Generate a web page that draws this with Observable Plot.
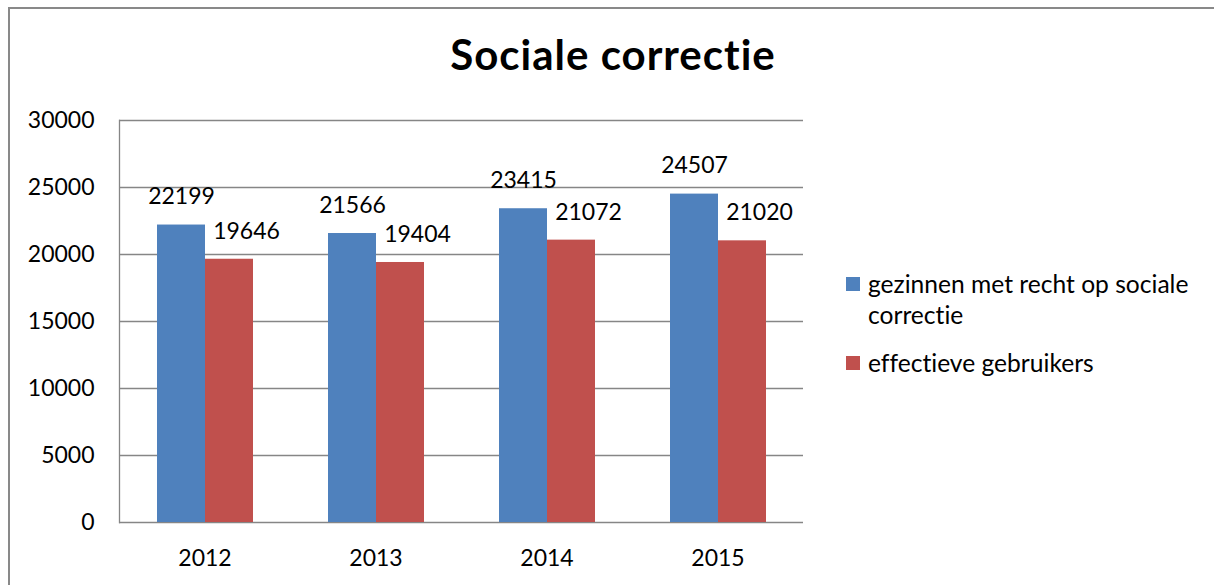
<!DOCTYPE html>
<html>
<head>
<meta charset="utf-8">
<script src="https://cdn.jsdelivr.net/npm/d3@7"></script>
<script src="https://cdn.jsdelivr.net/npm/@observablehq/plot@0.6"></script>
<style>
  html, body { margin: 0; padding: 0; background: #fff; overflow: hidden; }
  #wrap { position: relative; width: 1214px; height: 585px; overflow: hidden; font-family: Lato, "Open Sans", sans-serif; color: #000; font-variant-ligatures: none; }
  #border { position: absolute; left: 8px; top: 7px; width: 1300px; height: 700px; border-left: 2px solid #898989; border-top: 2px solid #898989; border-right: none; border-bottom: none; box-sizing: border-box; }
  #title { position: absolute; left: 0; width: 1226px; top: 33px; text-align: center; font-size: 42px; line-height: 42px; font-weight: bold; letter-spacing: 1px; }
  #chart { position: absolute; left: 0; top: 0; }
  #legend { position: absolute; left: 846px; top: 268px; font-size: 24.6px; line-height: 31px; }
  .item { display: flex; align-items: flex-start; margin-bottom: 17px; }
  .sw { width: 14px; height: 14px; flex: none; margin-top: 9px; margin-right: 8px; }
  .lab { width: 345px; }
  svg text { font-variant-ligatures: none; }
</style>
</head>
<body>
<div id="wrap">
  <div id="border"></div>
  <div id="chart"></div>
  <div id="title">Sociale correctie</div>
  <div id="legend"></div>
</div>
<script>
const years = ["2012", "2013", "2014", "2015"];
const seriesNames = ["gezinnen met recht op sociale correctie", "effectieve gebruikers"];
const rechthebbenden = [22199, 21566, 23415, 24507];
const gebruikers = [19646, 19404, 21072, 21020];
const colors = ["#4F81BD", "#C0504D"];
const yTicks = [0, 5000, 10000, 15000, 20000, 25000, 30000];

const rows = [];
years.forEach((y, i) => {
  rows.push({year: y, series: seriesNames[0], value: rechthebbenden[i]});
  rows.push({year: y, series: seriesNames[1], value: gebruikers[i]});
});

const gridColor = "#868686";

const chart = Plot.plot({
  width: 1214,
  height: 585,
  marginLeft: 119,
  marginRight: 411,
  marginTop: 120,
  marginBottom: 63,
  style: {fontFamily: "Lato, 'Open Sans', sans-serif", fontSize: "23px", color: "#000", background: "transparent"},
  fx: {domain: years, padding: 0, label: null, axis: "bottom", tickSize: 0, tickPadding: 27},
  x: {domain: seriesNames, paddingInner: 0, paddingOuter: 0.754, axis: null},
  y: {domain: [0, 30000], ticks: yTicks, tickFormat: d => String(d), tickSize: 0, tickPadding: 25, label: null},
  color: {domain: seriesNames, range: colors},
  marks: [
    Plot.ruleY(yTicks, {stroke: gridColor, strokeWidth: 1.3}),
    Plot.frame({anchor: "left", facet: "super", stroke: gridColor, strokeWidth: 1.3}),
    Plot.barY(rows, {fx: "year", x: "series", y: "value", fill: "series"}),
    Plot.text(rows.filter(d => d.series === seriesNames[0]), {fx: "year", x: "series", y: "value", text: d => String(d.value), lineAnchor: "middle", dy: -28, fill: "#000", fontSize: 23}),
    Plot.text(rows.filter(d => d.series === seriesNames[1]), {fx: "year", x: "series", y: "value", text: d => String(d.value), lineAnchor: "middle", dy: -28, dx: 17, fill: "#000", fontSize: 23})
  ]
});
document.getElementById("chart").appendChild(chart);

const legend = document.getElementById("legend");
seriesNames.forEach((name, i) => {
  const item = document.createElement("div");
  item.className = "item";
  const sw = document.createElement("div");
  sw.className = "sw";
  sw.style.background = colors[i];
  const lab = document.createElement("div");
  lab.className = "lab";
  lab.textContent = name;
  item.appendChild(sw);
  item.appendChild(lab);
  legend.appendChild(item);
});
</script>
</body>
</html>
